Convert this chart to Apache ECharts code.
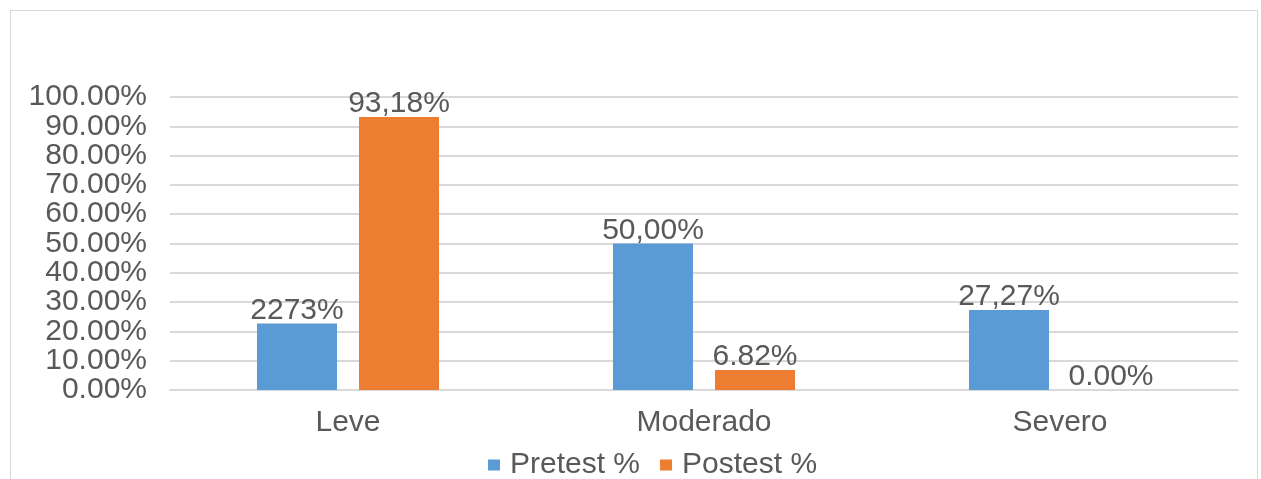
<!DOCTYPE html>
<html>
<head>
<meta charset="utf-8">
<script src="https://cdn.jsdelivr.net/npm/echarts@6/dist/echarts.min.js"></script>
<style>
  html, body { margin: 0; padding: 0; background: #fff; }
  #frame { position: absolute; left: 10px; top: 10px; width: 1248px; height: 475px; border: 1px solid #d9d9d9; box-sizing: border-box; }
  #chart { width: 1261px; height: 479px; }
</style>
</head>
<body>
<div id="frame"></div>
<div id="chart"></div>
<script>
const categories = ["Leve", "Moderado", "Severo"];
const pretest = [22.73, 50.0, 27.27];
const postest = [93.18, 6.82, 0.0];
const pretestLabels = ["2273%", "50,00%", "27,27%"];
const postestLabels = ["93,18%", "6.82%", "0.00%"];

const font = "Liberation Sans, Arial, sans-serif";
const textColor = "#595959";

const chart = echarts.init(document.getElementById("chart"));

const labelFor = texts => ({
  show: true,
  position: "top",
  distance: -2,
  fontFamily: font,
  fontSize: 30,
  color: textColor,
  formatter: p => texts[p.dataIndex]
});

// the ticks are 10% apart but the 30px labels are taller than that, so ECharts
// would drop some; split them over two stacked axes (even / odd tens)
const yLabel = keep => ({
  fontFamily: font,
  fontSize: 30,
  color: textColor,
  margin: 23,
  showMinLabel: true,
  showMaxLabel: true,
  formatter: v => (keep(v) ? v.toFixed(2) + "%" : "")
});

chart.setOption({
  animation: false,
  grid: { left: 170, right: 23, top: 97, bottom: 89 },
  legend: {
    top: 445,
    left: 483,
    itemWidth: 12,
    itemHeight: 11,
    itemGap: 20,
    icon: "rect",
    textStyle: { fontFamily: font, fontSize: 30, color: textColor, padding: [0, 0, 0, 5] },
    data: ["Pretest %", "Postest %"]
  },
  xAxis: {
    type: "category",
    data: categories,
    axisTick: { show: false },
    axisLine: { lineStyle: { color: "#d9d9d9", width: 2 } },
    axisLabel: { fontFamily: font, fontSize: 30, color: textColor, margin: 18 }
  },
  yAxis: [
    {
      type: "value",
      position: "left",
      min: 0,
      max: 100,
      interval: 20,
      axisLine: { show: false },
      axisTick: { show: false },
      splitLine: { show: false },
      axisLabel: yLabel(() => true)
    },
    {
      type: "value",
      position: "left",
      min: 0,
      max: 100,
      interval: 10,
      axisLine: { show: false },
      axisTick: { show: false },
      splitLine: { lineStyle: { color: "#d9d9d9", width: 2 } },
      axisLabel: yLabel(v => Math.round(v / 10) % 2 === 1)
    }
  ],
  series: [
    {
      name: "Pretest %",
      type: "bar",
      data: pretest,
      barWidth: 80,
      barGap: "27.5%",
      itemStyle: { color: "#5B9BD5" },
      label: labelFor(pretestLabels)
    },
    {
      name: "Postest %",
      type: "bar",
      data: postest,
      barWidth: 80,
      itemStyle: { color: "#ED7D31" },
      label: labelFor(postestLabels)
    }
  ]
});
</script>
</body>
</html>
